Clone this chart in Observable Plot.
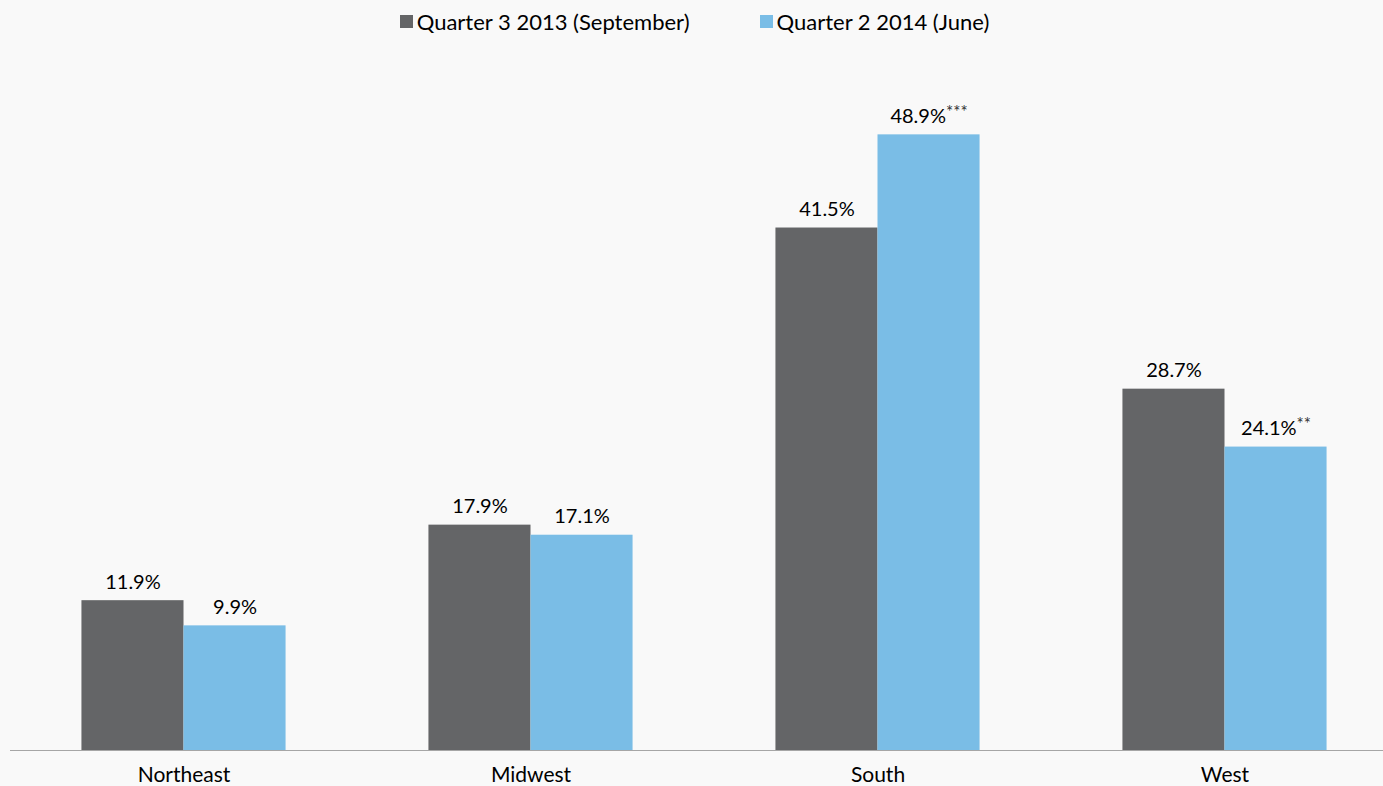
<!DOCTYPE html>
<html>
<head>
<meta charset="utf-8">
<script src="https://cdn.jsdelivr.net/npm/d3@7"></script>
<script src="https://cdn.jsdelivr.net/npm/@observablehq/plot@0.6"></script>
<style>
  html, body { margin: 0; padding: 0; overflow: hidden; background: #f9f9f9; }
  body { width: 1383px; height: 786px; position: relative; font-family: Lato, "Open Sans", sans-serif; }
  #legend { position: absolute; top: 0; left: 0; width: 1383px; height: 42px; display: flex; justify-content: center; align-items: center; font-size: 22px; color: #000; padding-left: 6px; box-sizing: border-box; z-index: 2; }
  .item { display: flex; align-items: center; margin: 0 35px; }
  .sw { width: 13px; height: 13px; margin-right: 4px; display: inline-block; }
  #chart { position: absolute; top: 0; left: 0; width: 1398px; }
  #chart svg { max-width: none !important; }
</style>
</head>
<body>
<div id="legend"></div>
<div id="chart"></div>
<script>
const regions = ["Northeast", "Midwest", "South", "West"];
const seriesNames = ["Quarter 3 2013 (September)", "Quarter 2 2014 (June)"];
const seriesColors = ["#646567", "#7abde6"];
const q3_2013 = [11.9, 17.9, 41.5, 28.7];
const q2_2014 = [9.9, 17.1, 48.9, 24.1];
const q3_2013_notes = ["", "", "", ""];
const q2_2014_notes = ["", "", "***", "**"];

const data = [];
regions.forEach((r, i) => {
  data.push({region: r, series: seriesNames[0], value: q3_2013[i], note: q3_2013_notes[i]});
  data.push({region: r, series: seriesNames[1], value: q2_2014[i], note: q2_2014_notes[i]});
});

const legend = document.getElementById("legend");
seriesNames.forEach((s, i) => {
  const it = document.createElement("div");
  it.className = "item";
  const sw = document.createElement("span");
  sw.className = "sw";
  sw.style.background = seriesColors[i];
  const t = document.createElement("span");
  t.textContent = s;
  it.appendChild(sw); it.appendChild(t);
  legend.appendChild(it);
});

const chart = Plot.plot({
  width: 1398,
  height: 786,
  marginLeft: 10,
  marginRight: 0,
  marginTop: 120.5,
  marginBottom: 36,
  style: {fontFamily: "Lato, 'Open Sans', sans-serif", fontSize: "21px", color: "#000", background: "transparent", overflow: "visible"},
  fx: {domain: regions, padding: 0, axis: "bottom", tickSize: 0, tickPadding: 17, label: null, round: false},
  x: {domain: seriesNames, axis: null, paddingInner: 0, paddingOuter: 0.7, round: false},
  y: {domain: [0, 50], axis: null},
  color: {domain: seriesNames, range: seriesColors},
  marks: [
    Plot.barY(data, {fx: "region", x: "series", y: "value", fill: "series"}),
    Plot.ruleY([0], {stroke: "#a6a6a6", strokeWidth: 1.2}),
    Plot.text(data, {fx: "region", x: "series", y: "value", text: d => d.value.toFixed(1) + "%" + d.note, dy: -12, lineAnchor: "bottom", fill: "#000", fontSize: 20})
  ]
});
chart.style.maxWidth = "none";
chart.style.width = "1398px";
chart.style.height = "786px";
document.getElementById("chart").appendChild(chart);

// render note asterisks as smaller superscripts
chart.querySelectorAll("text").forEach(t => {
  const s = t.textContent;
  const k = s.indexOf("*");
  if (k > 0 && t.children.length === 0) {
    t.textContent = s.slice(0, k);
    const sup = document.createElementNS("http://www.w3.org/2000/svg", "tspan");
    sup.setAttribute("font-size", "17");
    sup.setAttribute("dy", "-5");
    sup.setAttribute("fill", "#333");
    sup.textContent = s.slice(k);
    t.appendChild(sup);
  }
});
</script>
</body>
</html>
